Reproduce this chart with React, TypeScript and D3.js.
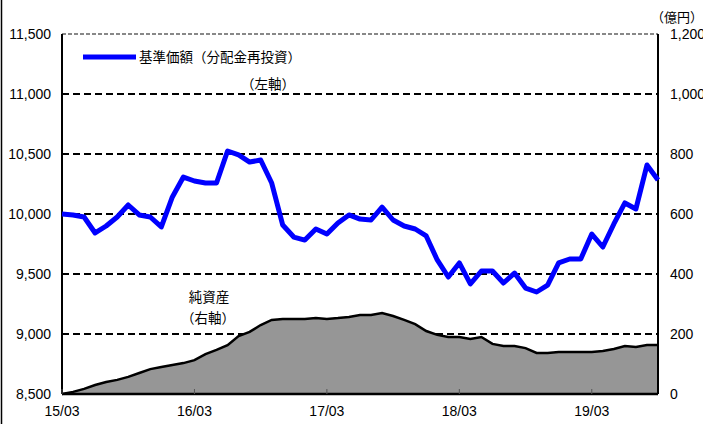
import React from "react";
import * as d3 from "d3";

// monthly data from 15/03 to 19/09
const navValues = [
  10000, 9992, 9975, 9842, 9900, 9975, 10075, 9992, 9975, 9892,
  10142, 10308, 10275, 10258, 10258, 10525, 10492, 10433, 10450, 10258,
  9908, 9808, 9783, 9875, 9833, 9925, 9992, 9958, 9950, 10058,
  9950, 9900, 9875, 9817, 9617, 9475, 9592, 9417, 9525, 9525,
  9425, 9508, 9383, 9350, 9408, 9592, 9625, 9625, 9833, 9725,
  9917, 10092, 10042, 10408, 10283,
];

const netAssets = [
  0, 7, 17, 30, 40, 47, 57, 70, 83, 90,
  97, 103, 113, 133, 147, 163, 193, 207, 230, 247,
  250, 250, 250, 253, 250, 253, 257, 263, 263, 270,
  260, 247, 233, 210, 197, 190, 190, 183, 190, 167,
  160, 160, 153, 137, 137, 140, 140, 140, 140, 143,
  150, 160, 157, 163, 163,
];

const xTickIndex = [0, 12, 24, 36, 48];
const xTickLabels = ["15/03", "16/03", "17/03", "18/03", "19/03"];
const leftTicks = [8500, 9000, 9500, 10000, 10500, 11000, 11500];
const rightTicks = [0, 200, 400, 600, 800, 1000, 1200];

const W = 703;
const H = 424;
const margin = { top: 34, right: 45, bottom: 30, left: 62 };

const numFont = "'Liberation Sans', Arial, sans-serif";
const jpFont = "'Noto Sans CJK JP', sans-serif";

export default function App() {
  const x = d3
    .scaleLinear()
    .domain([0, navValues.length - 1])
    .range([margin.left, W - margin.right]);
  const yL = d3
    .scaleLinear()
    .domain([8500, 11500])
    .range([H - margin.bottom, margin.top]);
  const yR = d3
    .scaleLinear()
    .domain([0, 1200])
    .range([H - margin.bottom, margin.top]);

  const fmt = d3.format(",");

  const area = d3
    .area<number>()
    .x((d, i) => x(i))
    .y0(yR(0))
    .y1((d) => yR(d));
  const areaTop = d3
    .line<number>()
    .x((d, i) => x(i))
    .y((d) => yR(d));
  const navLine = d3
    .line<number>()
    .x((d, i) => x(i))
    .y((d) => yL(d));

  const x0 = margin.left;
  const x1 = W - margin.right;
  const yTop = margin.top;
  const yBot = H - margin.bottom;

  return (
    <svg
      width={W}
      height={H}
      style={{ position: "absolute", left: 0, top: 0, background: "#fff" }}
    >
      <line x1={1.5} x2={1.5} y1={0} y2={H} stroke="#000" strokeWidth={1.5} />

      {/* gridlines */}
      {leftTicks.slice(1, -1).map((t) => (
        <line
          key={t}
          x1={x0}
          x2={x1}
          y1={yL(t)}
          y2={yL(t)}
          stroke="#000"
          strokeWidth={2}
          strokeDasharray="7,4"
        />
      ))}
      <line
        x1={x0}
        x2={x1}
        y1={yTop}
        y2={yTop}
        stroke="#888"
        strokeWidth={2}
        strokeDasharray="4,2"
      />

      {/* net assets */}
      <path d={area(netAssets) ?? ""} fill="#969696" />
      <path
        d={areaTop(netAssets) ?? ""}
        fill="none"
        stroke="#000"
        strokeWidth={2.5}
      />

      {/* axes frame */}
      <line x1={x0} x2={x0} y1={yTop} y2={yBot} stroke="#000" strokeWidth={2} />
      <line x1={x1} x2={x1} y1={yTop} y2={yBot} stroke="#000" strokeWidth={2} />
      <line x1={x0} x2={x1} y1={yBot} y2={yBot} stroke="#000" strokeWidth={2.5} />
      {xTickIndex.map((i) => (
        <line
          key={i}
          x1={x(i)}
          x2={x(i)}
          y1={yBot}
          y2={yBot - 5}
          stroke="#555"
          strokeWidth={1}
        />
      ))}

      {/* NAV line */}
      <path
        d={navLine(navValues) ?? ""}
        fill="none"
        stroke="#0000ff"
        strokeWidth={5}
        strokeLinejoin="round"
      />

      {/* left axis labels */}
      {leftTicks.map((t) => (
        <text
          key={t}
          x={51}
          y={yL(t)}
          dy="0.35em"
          textAnchor="end"
          fontFamily={numFont}
          fontSize={14}
        >
          {fmt(t)}
        </text>
      ))}

      {/* right axis labels */}
      {rightTicks.map((t) => (
        <text
          key={t}
          x={670}
          y={yR(t)}
          dy="0.35em"
          fontFamily={numFont}
          fontSize={14}
        >
          {fmt(t)}
        </text>
      ))}
      <text x={651} y={17} dy="0.35em" fontFamily={jpFont} fontSize={13}>
        （億円）
      </text>

      {/* x labels */}
      {xTickIndex.map((i, k) => (
        <text
          key={i}
          x={x(i)}
          y={411}
          dy="0.35em"
          textAnchor="middle"
          fontFamily={numFont}
          fontSize={14}
        >
          {xTickLabels[k]}
        </text>
      ))}

      {/* legend */}
      <line x1={83} x2={136} y1={57} y2={57} stroke="#0000ff" strokeWidth={5} />
      <text x={139} y={57} dy="0.35em" fontFamily={jpFont} fontSize={13.5}>
        基準価額（分配金再投資）
      </text>
      <text
        x={268}
        y={84}
        dy="0.35em"
        textAnchor="middle"
        fontFamily={jpFont}
        fontSize={13.5}
      >
        （左軸）
      </text>

      <text
        x={209}
        y={297}
        dy="0.35em"
        textAnchor="middle"
        fontFamily={jpFont}
        fontSize={13.5}
      >
        純資産
      </text>
      <text
        x={208}
        y={318}
        dy="0.35em"
        textAnchor="middle"
        fontFamily={jpFont}
        fontSize={13.5}
      >
        （右軸）
      </text>
    </svg>
  );
}
